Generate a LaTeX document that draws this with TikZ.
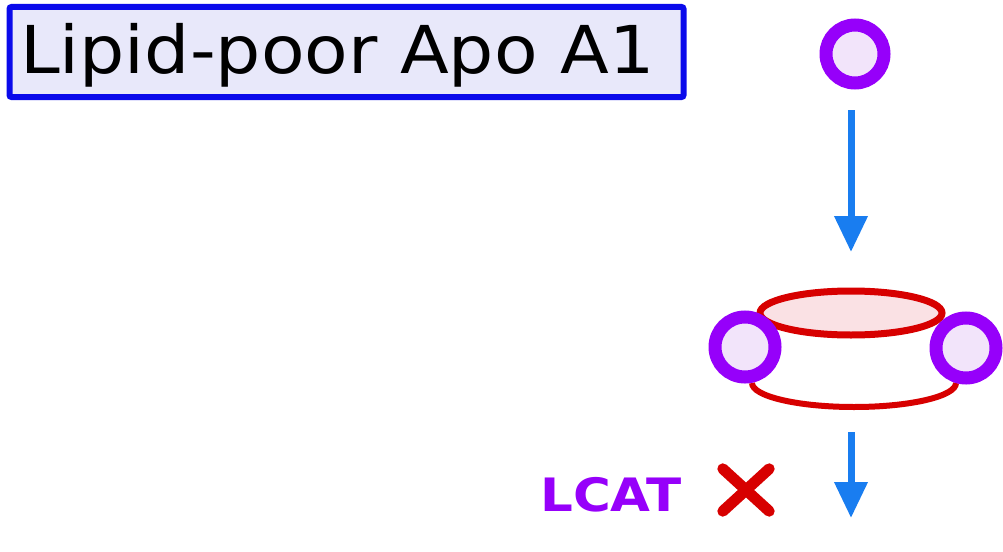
\documentclass[tikz,border=0pt]{standalone}
\usepackage{fontspec}
\setmainfont{DejaVu Sans}
\usetikzlibrary{arrows.meta,shapes.geometric}
\definecolor{apoPurple}{RGB}{150,0,250}
\definecolor{apoFill}{RGB}{242,228,250}
\definecolor{flowBlue}{RGB}{25,125,240}
\definecolor{discRed}{RGB}{215,0,0}
\definecolor{discFill}{RGB}{250,225,228}
\definecolor{boxBlue}{RGB}{10,10,235}
\definecolor{boxFill}{RGB}{232,232,250}
\tikzset{
  apo/.style={circle, draw=apoPurple, line width=13pt, fill=apoFill, minimum size=58pt, inner sep=0pt},
  flow/.style={draw=flowBlue, line width=7pt, -{Triangle[length=36pt,width=32pt]}},
  titlebox/.style={draw=boxBlue, line width=6pt, fill=boxFill, rounded corners=2pt,
    minimum width=674pt, minimum height=90pt, inner sep=0pt},
  discedge/.style={draw=discRed, line width=7pt},
}
\begin{document}
\begin{tikzpicture}[x=1pt,y=-1pt]
  \useasboundingbox (0,0) rectangle (1003,551);
  % title box
  \node[titlebox] (title) at (346.5,52) {};
  \node[anchor=west, inner sep=0pt, font=\fontsize{66pt}{68pt}\selectfont] (titletext) at (20,55)
    {\scalebox{1.08}[1]{Lipid-poor Apo A1}};
  % lipid-poor apolipoprotein
  \node[apo] (apofree) at (855,54) {};
  \coordinate (a1s) at (851,110);
  \coordinate (a1e) at (851,252);
  \draw[flow] (a1s) -- (a1e);
  % discoidal particle: lower rim and upper face
  \draw[discedge, line width=6pt] (752,383) arc[start angle=180, end angle=0, x radius=102, y radius=24];
  \node[ellipse, discedge, fill=discFill, minimum width=182pt, minimum height=44pt, inner sep=0pt] (disctop) at (851,313) {};
  \node[apo, minimum size=60pt] (apoleft) at (745,347) {};
  \node[apo, minimum size=60pt] (aporight) at (966,348) {};
  % maturation step blocked
  \coordinate (a2s) at (851,432);
  \coordinate (a2e) at (851,518);
  \draw[flow] (a2s) -- (a2e);
  \node[anchor=west, inner sep=0pt, text=apoPurple, font=\bfseries\fontsize{46pt}{48pt}\selectfont] (lcat) at (540,495)
    {\scalebox{1.12}[1]{LCAT}};
  \node[inner sep=0pt, minimum width=46pt, minimum height=42pt] (block) at (746,490) {};
  \draw[discRed, line width=11pt, line cap=round] (block.north west) -- (block.south east);
  \draw[discRed, line width=11pt, line cap=round] (block.north east) -- (block.south west);
\end{tikzpicture}
\end{document}
